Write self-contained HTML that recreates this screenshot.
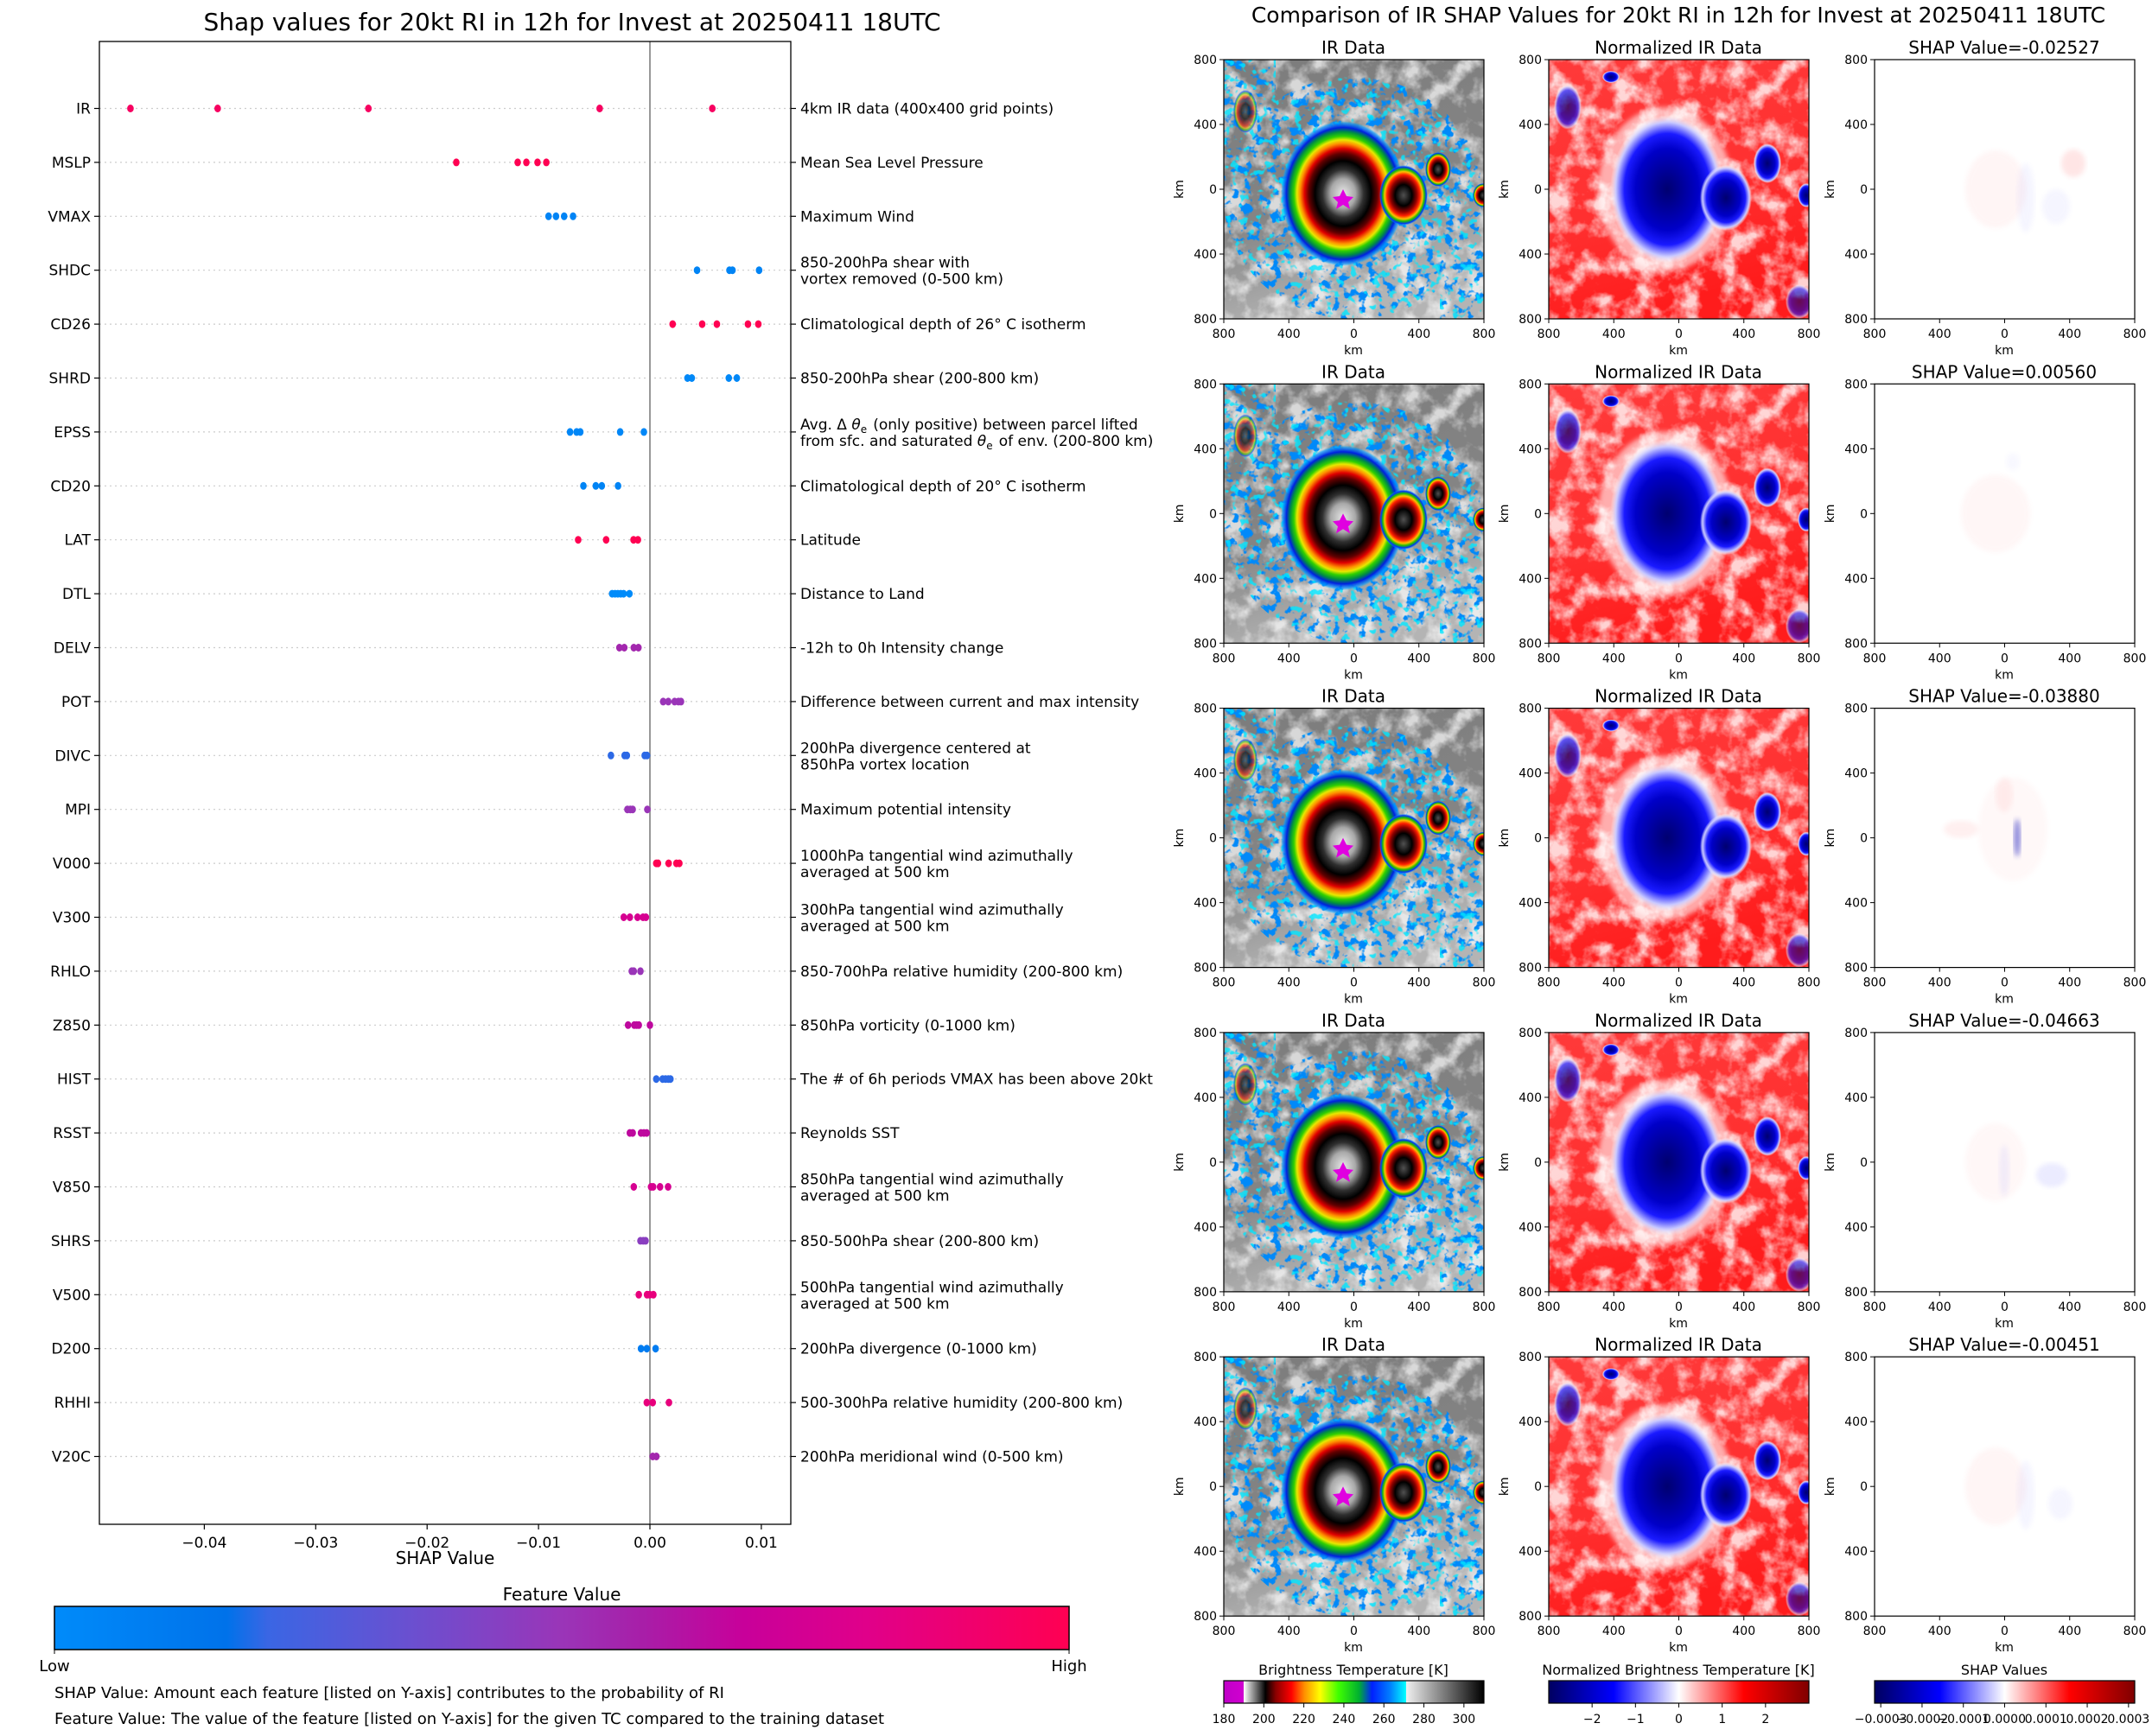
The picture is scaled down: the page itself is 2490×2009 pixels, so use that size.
<!DOCTYPE html>
<html><head><meta charset="utf-8"><style>
html,body{margin:0;padding:0;background:#fff}
svg{display:block;font-family:"DejaVu Sans","Liberation Sans",sans-serif}
</style></head><body>
<svg id="fig" width="2490" height="2009" viewBox="0 0 2490 2009" xmlns="http://www.w3.org/2000/svg">
<defs>
  <linearGradient id="fvGrad" x1="0" x2="1" y1="0" y2="0">
    <stop offset="0" stop-color="#008bfa"/><stop offset="0.17" stop-color="#0072ea"/><stop offset="0.21" stop-color="#3a66e4"/>
    <stop offset="0.35" stop-color="#6a50d0"/><stop offset="0.5" stop-color="#9a35b8"/><stop offset="0.58" stop-color="#a81ea8"/>
    <stop offset="0.68" stop-color="#c8009a"/><stop offset="0.8" stop-color="#e0008a"/><stop offset="1" stop-color="#ff0052"/>
  </linearGradient>
  <linearGradient id="btGrad" x1="0" x2="1">
    <stop offset="0" stop-color="#c000c8"/><stop offset="0.076" stop-color="#d000d0"/><stop offset="0.077" stop-color="#ffffff"/>
    <stop offset="0.15" stop-color="#202020"/><stop offset="0.16" stop-color="#000"/><stop offset="0.2" stop-color="#8a0000"/>
    <stop offset="0.26" stop-color="#ff0000"/><stop offset="0.31" stop-color="#ff9000"/><stop offset="0.37" stop-color="#ffff00"/>
    <stop offset="0.44" stop-color="#40ff00"/><stop offset="0.52" stop-color="#00b030"/><stop offset="0.57" stop-color="#0020ff"/>
    <stop offset="0.64" stop-color="#0080ff"/><stop offset="0.7" stop-color="#00ffff"/><stop offset="0.701" stop-color="#f0f0f0"/>
    <stop offset="1" stop-color="#000"/>
  </linearGradient>
  <linearGradient id="bwrGrad" x1="0" x2="1">
    <stop offset="0" stop-color="#000060"/><stop offset="0.25" stop-color="#0000ff"/><stop offset="0.5" stop-color="#ffffff"/>
    <stop offset="0.75" stop-color="#ff0000"/><stop offset="1" stop-color="#800000"/>
  </linearGradient>
  <radialGradient id="stormGrad">
    <stop offset="0" stop-color="#e8e8e8"/><stop offset="0.2" stop-color="#a8a8a8"/><stop offset="0.33" stop-color="#303030"/>
    <stop offset="0.45" stop-color="#000"/><stop offset="0.55" stop-color="#600000"/><stop offset="0.62" stop-color="#e00000"/>
    <stop offset="0.69" stop-color="#ff9000"/><stop offset="0.74" stop-color="#e8e800"/><stop offset="0.79" stop-color="#30d000"/>
    <stop offset="0.85" stop-color="#009040"/><stop offset="0.91" stop-color="#0020e0"/><stop offset="0.97" stop-color="#0090ff" stop-opacity="0.7"/>
    <stop offset="1" stop-color="#00c0ff" stop-opacity="0"/>
  </radialGradient>
  <radialGradient id="smallStorm">
    <stop offset="0" stop-color="#505050"/><stop offset="0.35" stop-color="#000"/><stop offset="0.55" stop-color="#900000"/>
    <stop offset="0.68" stop-color="#ff2000"/><stop offset="0.78" stop-color="#ffc000"/><stop offset="0.86" stop-color="#20c000"/>
    <stop offset="0.94" stop-color="#0030ff"/><stop offset="1" stop-color="#00c0ff" stop-opacity="0"/>
  </radialGradient>
  <radialGradient id="blueBlob">
    <stop offset="0" stop-color="#000070"/><stop offset="0.55" stop-color="#0000c8"/><stop offset="0.75" stop-color="#1a1aff"/>
    <stop offset="0.9" stop-color="#c8c8ff"/><stop offset="1" stop-color="#ffffff" stop-opacity="0"/>
  </radialGradient>
  <linearGradient id="grayBg" x1="0" y1="0" x2="0.3" y2="1">
    <stop offset="0" stop-color="#7c7c7c"/><stop offset="0.6" stop-color="#848484"/><stop offset="1" stop-color="#b4b4b4"/>
  </linearGradient>
  <linearGradient id="redBg" x1="0" y1="0" x2="0.3" y2="1">
    <stop offset="0" stop-color="#ff3a3a"/><stop offset="0.6" stop-color="#ff3030"/><stop offset="1" stop-color="#ff1c1c"/>
  </linearGradient>
  <filter id="clouds" x="0" y="0" width="1" height="1">
    <feTurbulence type="fractalNoise" baseFrequency="0.04" numOctaves="4" seed="3"/>
    <feColorMatrix type="matrix" values="0 0 0 0 1  0 0 0 0 1  0 0 0 0 1  3.2 0 0 0 -1.35"/>
  </filter>
  <filter id="blueSpk" x="0" y="0" width="1" height="1">
    <feTurbulence type="fractalNoise" baseFrequency="0.09" numOctaves="3" seed="8"/>
    <feColorMatrix type="matrix" values="0 0 0 0 0  0 0 0 0 0.25  0 0 0 0 0.95  9 0 0 0 -5"/>
  </filter>
  <filter id="cyanSpk" x="0" y="0" width="1" height="1">
    <feTurbulence type="fractalNoise" baseFrequency="0.11" numOctaves="2" seed="15"/>
    <feColorMatrix type="matrix" values="0 0 0 0 0  0 0 0 0 0.8  0 0 0 0 1  10 0 0 0 -6"/>
  </filter>
  <filter id="blur3"><feGaussianBlur stdDeviation="3"/></filter>
  <clipPath id="imgClip"><rect x="0" y="0" width="301" height="300"/></clipPath>
  <clipPath id="nearStorm"><ellipse cx="150" cy="160" rx="150" ry="140"/><rect x="0" y="0" width="60" height="140"/><rect x="250" y="200" width="51" height="100"/></clipPath>
  <g id="irScene" clip-path="url(#imgClip)">
    <rect width="301" height="300" fill="url(#grayBg)"/>
    <rect width="301" height="300" filter="url(#clouds)" opacity="0.7"/>
    <g clip-path="url(#nearStorm)"><rect width="301" height="300" filter="url(#blueSpk)"/><rect width="301" height="300" filter="url(#cyanSpk)" opacity="0.8"/></g>
    <ellipse cx="138" cy="155" rx="72" ry="84" fill="url(#stormGrad)"/>
    <ellipse cx="208" cy="157" rx="28" ry="35" fill="url(#smallStorm)"/>
    <ellipse cx="248" cy="127" rx="15" ry="20" fill="url(#smallStorm)"/>
    <ellipse cx="300" cy="157" rx="12" ry="14" fill="url(#smallStorm)"/>
    <ellipse cx="25" cy="60" rx="14" ry="25" fill="url(#smallStorm)" opacity="0.6"/>
    <polygon points="138,150 142,158 150,159 144,165 146,173 138,168 130,173 132,165 126,159 134,158" fill="#e000e0"/>
  </g>
  <g id="normScene" clip-path="url(#imgClip)">
    <rect width="301" height="300" fill="url(#redBg)"/>
    <rect width="301" height="300" filter="url(#clouds)" opacity="0.8"/>
    <ellipse cx="135" cy="150" rx="78" ry="95" fill="#ffffff" opacity="0.6" filter="url(#blur3)"/>
    <ellipse cx="137" cy="150" rx="66" ry="86" fill="url(#blueBlob)"/>
    <ellipse cx="205" cy="160" rx="30" ry="38" fill="url(#blueBlob)"/>
    <ellipse cx="253" cy="120" rx="16" ry="23" fill="url(#blueBlob)"/>
    <ellipse cx="298" cy="157" rx="10" ry="14" fill="url(#blueBlob)"/>
    <ellipse cx="22" cy="55" rx="16" ry="26" fill="url(#blueBlob)" opacity="0.7"/>
    <ellipse cx="72" cy="20" rx="10" ry="7" fill="url(#blueBlob)"/>
    <ellipse cx="290" cy="280" rx="16" ry="20" fill="url(#blueBlob)" opacity="0.6"/>
  </g>
</defs>
<g id="root"></g>
</svg>
<script>
// ===== Left chart data =====
const features = ["IR","MSLP","VMAX","SHDC","CD26","SHRD","EPSS","CD20","LAT","DTL","DELV","POT","DIVC","MPI","V000","V300","RHLO","Z850","HIST","RSST","V850","SHRS","V500","D200","RHHI","V20C"];
const featureDesc = [
 ["4km IR data (400x400 grid points)"],["Mean Sea Level Pressure"],["Maximum Wind"],
 ["850-200hPa shear with","vortex removed (0-500 km)"],["Climatological depth of 26° C isotherm"],
 ["850-200hPa shear (200-800 km)"],
 ["Avg. Δ θ_e (only positive) between parcel lifted","from sfc. and saturated θ_e of env. (200-800 km)"],
 ["Climatological depth of 20° C isotherm"],["Latitude"],["Distance to Land"],["-12h to 0h Intensity change"],
 ["Difference between current and max intensity"],["200hPa divergence centered at","850hPa vortex location"],
 ["Maximum potential intensity"],["1000hPa tangential wind azimuthally","averaged at 500 km"],
 ["300hPa tangential wind azimuthally","averaged at 500 km"],["850-700hPa relative humidity (200-800 km)"],
 ["850hPa vorticity (0-1000 km)"],["The # of 6h periods VMAX has been above 20kt"],["Reynolds SST"],
 ["850hPa tangential wind azimuthally","averaged at 500 km"],["850-500hPa shear (200-800 km)"],
 ["500hPa tangential wind azimuthally","averaged at 500 km"],["200hPa divergence (0-1000 km)"],
 ["500-300hPa relative humidity (200-800 km)"],["200hPa meridional wind (0-500 km)"]];
const shapVals = [
 [-0.04663,-0.03880,-0.02527,-0.00451,0.00560],
 [-0.01738,-0.01187,-0.01109,-0.01009,-0.0093],
 [-0.0091,-0.00843,-0.0077,-0.0069],
 [0.00423,0.00714,0.00741,0.0098],
 [0.00204,0.00469,0.00601,0.0088,0.00973],
 [0.00337,0.00376,0.00708,0.0078],
 [-0.00717,-0.00658,-0.00625,-0.00267,-0.00054],
 [-0.00597,-0.00486,-0.00432,-0.00286],
 [-0.00644,-0.00393,-0.00147,-0.00108],
 [-0.00339,-0.00313,-0.00288,-0.00262,-0.00236,-0.00184],
 [-0.00274,-0.0023,-0.00145,-0.00103],
 [0.00119,0.00165,0.00222,0.00256,0.00279],
 [-0.0035,-0.00227,-0.00207,-0.00047,-0.00026],
 [-0.00202,-0.00176,-0.00155,-0.00023],
 [0.00057,0.00072,0.00168,0.00238,0.00264],
 [-0.00235,-0.0018,-0.00111,-0.00062,-0.00036],
 [-0.00163,-0.00145,-0.00085],
 [-0.00196,-0.0014,-0.00119,-0.001,0.0],
 [0.00057,0.00114,0.0014,0.00165,0.00184],
 [-0.0018,-0.00155,-0.0008,-0.00054,-0.00029],
 [-0.00145,0.0001,0.00029,0.00091,0.00163],
 [-0.00085,-0.0006,-0.00039],
 [-0.001,-0.00026,-0.00002,0.00031],
 [-0.0008,-0.00028,0.00051],
 [-0.00028,0.00025,0.00171],
 [0.00025,0.00058]];
const featureVals = [0.95,1,0.05,0.05,1,0.02,0.03,0.05,1,0,0.55,0.5,0.2,0.5,1,0.75,0.5,0.65,0.2,0.65,0.75,0.45,0.85,0.1,0.85,0.55];
const xTicks = [-0.04,-0.03,-0.02,-0.01,0,0.01];
const xTickLabels = ["\u22120.04","\u22120.03","\u22120.02","\u22120.01","0.00","0.01"];
// ===== Right panel data =====
const shapTitles = ["-0.02527","0.00560","-0.03880","-0.04663","-0.00451"];
const kmTicks = [800,400,0,400,800];
const btTicks = [180,200,220,240,260,280,300];
const normTicks = [-2,-1,0,1,2];
const shapCbTicks = [-0.0003,-0.0002,-0.0001,0,0.0001,0.0002,0.0003];
const shapCbLabels = ["\u22120.0003","\u22120.0002","\u22120.0001","0.0000","0.0001","0.0002","0.0003"];

const NS="http://www.w3.org/2000/svg";
const root=document.getElementById('root');
function mk(tag,attrs,parent,text){const e=document.createElementNS(NS,tag);for(const k in attrs)e.setAttribute(k,attrs[k]);if(text!==undefined)e.textContent=text;(parent||root).appendChild(e);return e;}

const AX={l:115,r:915,t:48,b:1764};
function xs(v){return 752+v*12890;}
function ys(i){return 125.5+i*62.4;}
const stops=[[0,[0,139,250]],[0.17,[0,114,234]],[0.21,[58,102,228]],[0.35,[106,80,208]],[0.5,[154,53,184]],[0.58,[168,30,168]],[0.68,[200,0,154]],[0.8,[224,0,138]],[1,[255,0,82]]];
function cmap(t){for(let i=1;i<stops.length;i++){if(t<=stops[i][0]){const a=stops[i-1],b=stops[i];const f=(t-a[0])/(b[0]-a[0]);return 'rgb('+a[1].map((c,j)=>Math.round(c+(b[1][j]-c)*f)).join(',')+')';}}return 'rgb(255,0,82)';}

let t=mk('text',{x:662,y:35,'text-anchor':'middle','font-size':28},root,'Shap values for 20kt RI in 12h for Invest at 20250411 18UTC');


const plot=mk('g',{});

features.forEach((f,i)=>{
  const y=ys(i);
  const g=mk('line',{x1:AX.l,x2:AX.r,y1:y,y2:y,stroke:'#cccccc','stroke-width':1.2,'stroke-dasharray':'2,4'},plot);
  
});
let zl=mk('line',{x1:xs(0),x2:xs(0),y1:AX.t,y2:AX.b,stroke:'#999','stroke-width':2},plot);

features.forEach((f,i)=>{
  const y=ys(i);const col=cmap(featureVals[i]);
  shapVals[i].forEach(v=>{
    const d=mk('ellipse',{cx:xs(v),cy:y,rx:3.8,ry:4.5,fill:col},plot);
    
    
  });
  const lt=mk('line',{x1:AX.l-6,x2:AX.l,y1:y,y2:y,stroke:'#000','stroke-width':1.2},plot);
  
  const rt=mk('line',{x1:AX.r,x2:AX.r+6,y1:y,y2:y,stroke:'#000','stroke-width':1.2},plot);
  
  const lab=mk('text',{x:AX.l-10,y:y+6,'text-anchor':'end','font-size':17},plot,f);
  
  const lines=featureDesc[i];
  lines.forEach((ln,k)=>{
    const yy = lines.length===1? y+6 : y+6+(k===0?-9:10);
    const tx=mk('text',{x:AX.r+11,y:yy,'font-size':17},plot);
    
    const parts=ln.split('θ_e');
    parts.forEach((p,pi)=>{
      mk('tspan',{},tx,p);
      if(pi<parts.length-1){mk('tspan',{'font-style':'italic'},tx,'θ');mk('tspan',{'font-size':12,dy:4},tx,'e');mk('tspan',{dy:-4},tx,'\u200a');}
    });
  });
});
let fr=mk('rect',{x:AX.l,y:AX.t,width:AX.r-AX.l,height:AX.b-AX.t,fill:'none',stroke:'#000','stroke-width':1.3},plot);

xTicks.forEach((v,k)=>{
  const x=xs(v);
  const tk=mk('line',{x1:x,x2:x,y1:AX.b,y2:AX.b+6,stroke:'#000','stroke-width':1.2},plot);
  
  const tl=mk('text',{x:x,y:AX.b+27,'text-anchor':'middle','font-size':17},plot,xTickLabels[k]);
  
});
let xt=mk('text',{x:515,y:1810,'text-anchor':'middle','font-size':20},root,'SHAP Value');


let fvt=mk('text',{x:650,y:1852,'text-anchor':'middle','font-size':20},root,'Feature Value');

let cb=mk('rect',{x:63,y:1859,width:1174,height:50,fill:'url(#fvGrad)',stroke:'#000','stroke-width':1.5});

mk('line',{x1:63,x2:63,y1:1909,y2:1914,stroke:'#000'});mk('line',{x1:1237,x2:1237,y1:1909,y2:1914,stroke:'#000'});
let lo=mk('text',{x:63,y:1934,'text-anchor':'middle','font-size':18},root,'Low');

let hi=mk('text',{x:1237,y:1934,'text-anchor':'middle','font-size':18},root,'High');

let n1=mk('text',{x:63,y:1965,'font-size':18},root,'SHAP Value: Amount each feature [listed on Y-axis] contributes to the probability of RI');

let n2=mk('text',{x:63,y:1995,'font-size':18},root,'Feature Value: The value of the feature [listed on Y-axis] for the given TC compared to the training dataset');


let rt2=mk('text',{x:1942,y:26,'text-anchor':'middle','font-size':25},root,'Comparison of IR SHAP Values for 20kt RI in 12h for Invest at 20250411 18UTC');

const colX=[1416,1792,2169];
const colTitles=["IR Data","Normalized IR Data",null];
const shapTints=[
 [[140,150,35,45,'#ff6060',0.06],[230,120,14,16,'#ff3030',0.12],[175,160,10,40,'#6060ff',0.06],[210,170,16,20,'#6060ff',0.06]],
 [[140,150,40,45,'#ff6060',0.05],[160,90,8,10,'#8080ff',0.05]],
 [[160,140,40,60,'#ff8080',0.05],[165,150,4,22,'#2020c0',0.5],[100,140,20,10,'#ff4040',0.08],[150,100,10,20,'#ff4040',0.07]],
 [[140,150,35,45,'#ff7070',0.05],[205,165,18,14,'#6060ff',0.12],[150,160,6,30,'#6060ff',0.08]],
 [[140,150,35,45,'#ff6060',0.06],[175,160,10,40,'#6060ff',0.06],[215,170,14,18,'#6060ff',0.06]]];
for(let r=0;r<5;r++){
  const y0=69+r*375.3;
  for(let c=0;c<3;c++){
    const x0=colX[c];
    const g=mk('g',{transform:`translate(${x0},${y0})`});
    
    
    if(c===0){mk('use',{href:'#irScene'},g);}
    else if(c===1){mk('use',{href:'#normScene'},g);}
    else{
      mk('rect',{width:301,height:300,fill:'#fff'},g);
      shapTints[r].forEach(s=>{mk('ellipse',{cx:s[0],cy:s[1],rx:s[2],ry:s[3],fill:s[4],opacity:s[5],filter:'url(#blur3)'},g);});
    }
    mk('rect',{width:301,height:300,fill:'none',stroke:'#000','stroke-width':1.2},g);
    const title=c<2?colTitles[c]:'SHAP Value='+shapTitles[r];
    const st=mk('text',{x:150,y:-7,'text-anchor':'middle','font-size':20},g,title);
    
    kmTicks.forEach((v,k)=>{
      const p=k*75;
      mk('line',{x1:-5,x2:0,y1:p,y2:p,stroke:'#000'},g);
      const yl=mk('text',{x:-8,y:p+5,'text-anchor':'end','font-size':14},g,String(v));
      
      const px=k*75.25;
      mk('line',{x1:px,x2:px,y1:300,y2:305,stroke:'#000'},g);
      const xl=mk('text',{x:px,y:322,'text-anchor':'middle','font-size':14},g,String(v));
      
    });
    const xk=mk('text',{x:150,y:341,'text-anchor':'middle','font-size':14},g,'km');
    
    const yk=mk('text',{x:0,y:0,'text-anchor':'middle','font-size':14,transform:'translate(-47,150) rotate(-90)'},g,'km');
    
  }
}
const cbs=[
 {x:1416,title:'Brightness Temperature [K]',grad:'btGrad',ticks:btTicks,labels:btTicks.map(String),min:180,max:310,name:'brightness-colorbar'},
 {x:1792,title:'Normalized Brightness Temperature [K]',grad:'bwrGrad',ticks:normTicks,labels:normTicks.map(v=>v<0?'\u2212'+(-v):String(v)),min:-3,max:3,name:'normalized-colorbar'},
 {x:2169,title:'SHAP Values',grad:'bwrGrad',ticks:shapCbTicks,labels:shapCbLabels,min:-0.000315,max:0.000315,name:'shap-colorbar'}];
cbs.forEach(cbd=>{
  const g=mk('g',{});
  
  mk('text',{x:cbd.x+150,y:1938,'text-anchor':'middle','font-size':16},g,cbd.title);
  mk('rect',{x:cbd.x,y:1945,width:301,height:26,fill:'url(#'+cbd.grad+')',stroke:'#000','stroke-width':1.2},g);
  cbd.ticks.forEach((v,k)=>{
    const x=cbd.x+(v-cbd.min)/(cbd.max-cbd.min)*301;
    mk('line',{x1:x,x2:x,y1:1971,y2:1976,stroke:'#000'},g);
    const tl=mk('text',{x:x,y:1994,'text-anchor':'middle','font-size':14},g,cbd.labels[k]);
    
  });
});
</script>
</body></html>
